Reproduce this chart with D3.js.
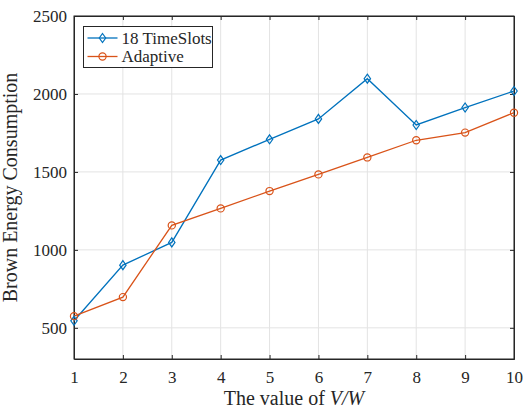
<!DOCTYPE html>
<html>
<head>
<meta charset="utf-8">
<script src="https://cdn.jsdelivr.net/npm/d3@7"></script>
<style>
body { margin: 0; background: #fff; }
svg text { font-family: "Liberation Serif", "DejaVu Serif", serif !important; fill: #262626; }
</style>
</head>
<body>
<div id="chart"></div>
<script>
// values
var xValues = [1, 2, 3, 4, 5, 6, 7, 8, 9, 10];
var slots18 = [545, 902, 1048, 1576, 1709, 1840, 2098, 1801, 1913, 2019];
var adaptive = [575, 697, 1157, 1266, 1377, 1484, 1593, 1703, 1752, 1880];
var yTicks = [500, 1000, 1500, 2000, 2500];
var seriesNames = ["18 TimeSlots", "Adaptive"];

var W = 523, H = 410;
var margin = {top: 16, right: 9, bottom: 51, left: 74};
var width = W - margin.left - margin.right,
    height = H - margin.top - margin.bottom;
var serif = '"Liberation Serif", "DejaVu Serif", serif';

var svg = d3.select("#chart").append("svg")
    .attr("width", W)
    .attr("height", H)
    .attr("font-family", serif)
    .append("g")
    .attr("transform", "translate(" + margin.left + "," + margin.top + ")");

var x = d3.scaleLinear().domain([1, 10]).range([0, width]);
var y = d3.scaleLinear().domain([300, 2500]).range([height, 0]);

// grid
svg.append("g").selectAll("line.gx")
    .data(xValues).enter().append("line")
    .attr("x1", function(d) { return x(d); })
    .attr("x2", function(d) { return x(d); })
    .attr("y1", 0).attr("y2", height)
    .attr("stroke", "#e3e3e3").attr("stroke-width", 1);
svg.append("g").selectAll("line.gy")
    .data(yTicks).enter().append("line")
    .attr("y1", function(d) { return y(d); })
    .attr("y2", function(d) { return y(d); })
    .attr("x1", 0).attr("x2", width)
    .attr("stroke", "#e3e3e3").attr("stroke-width", 1);

// axes, ticks pointing inward
var xAxis = d3.axisBottom(x).tickValues(xValues).tickSizeInner(-4).tickSizeOuter(0).tickPadding(12).tickFormat(d3.format("d"));
var yAxis = d3.axisLeft(y).tickValues(yTicks).tickSizeInner(-4).tickSizeOuter(0).tickPadding(7).tickFormat(d3.format("d"));

svg.append("g").attr("transform", "translate(0," + height + ")").call(xAxis);
svg.append("g").call(yAxis);
svg.append("g").call(d3.axisTop(x).tickValues(xValues).tickSize(-4).tickFormat(""));
svg.append("g").attr("transform", "translate(" + width + ",0)")
    .call(d3.axisRight(y).tickValues(yTicks).tickSize(-4).tickFormat(""));

svg.selectAll("g").attr("font-family", serif);
svg.selectAll(".domain").attr("stroke", "#262626");
svg.selectAll(".tick line").attr("stroke", "#262626");
svg.selectAll(".tick text").style("font-size", "17px").attr("fill", "#262626");

svg.append("rect")
    .attr("width", width).attr("height", height)
    .attr("fill", "none").attr("stroke", "#262626").attr("stroke-width", 1);

// labels
svg.append("text")
    .attr("x", width / 2).attr("y", height + 46)
    .attr("text-anchor", "middle")
    .style("font-size", "20px")
    .html('The value of <tspan font-style="italic">V/W</tspan>');

svg.append("text")
    .attr("transform", "translate(" + (-57) + "," + (height / 2) + ") rotate(-90)")
    .attr("text-anchor", "middle")
    .style("font-size", "20px")
    .text("Brown Energy Consumption");

// lines
var line = d3.line()
    .x(function(d, i) { return x(xValues[i]); })
    .y(function(d) { return y(d); });

var colors = ["#0072BD", "#D95319"];
var allSeries = [slots18, adaptive];

allSeries.forEach(function(s, k) {
    svg.append("path")
        .datum(s)
        .attr("d", line)
        .attr("fill", "none")
        .attr("stroke", colors[k])
        .attr("stroke-width", 1.3);
});

var diamond = "M0,-4.5L3.2,0L0,4.5L-3.2,0Z";

function drawMarker(g, k, cx, cy) {
    if (k === 0) {
        g.append("path").attr("d", diamond)
            .attr("transform", "translate(" + cx + "," + cy + ")")
            .attr("fill", "none").attr("stroke", colors[k]).attr("stroke-width", 1.2);
    } else {
        g.append("circle").attr("cx", cx).attr("cy", cy).attr("r", 3.6)
            .attr("fill", "none").attr("stroke", colors[k]).attr("stroke-width", 1.2);
    }
}

allSeries.forEach(function(s, k) {
    var g = svg.append("g");
    s.forEach(function(v, i) {
        drawMarker(g, k, x(xValues[i]), y(v));
    });
});

// legend
var lg = svg.append("g").attr("transform", "translate(9.5,10.5)");
lg.append("rect").attr("width", 129).attr("height", 41)
    .attr("fill", "#fff").attr("stroke", "#262626").attr("stroke-width", 1);
seriesNames.forEach(function(name, k) {
    var cy = 11.5 + k * 18.5;
    lg.append("line").attr("x1", 4).attr("x2", 34).attr("y1", cy).attr("y2", cy)
        .attr("stroke", colors[k]).attr("stroke-width", 1.3);
    drawMarker(lg, k, 19, cy);
    lg.append("text").attr("x", 38).attr("y", cy + 5.5)
        .style("font-size", "17px").text(name);
});
</script>
</body>
</html>
